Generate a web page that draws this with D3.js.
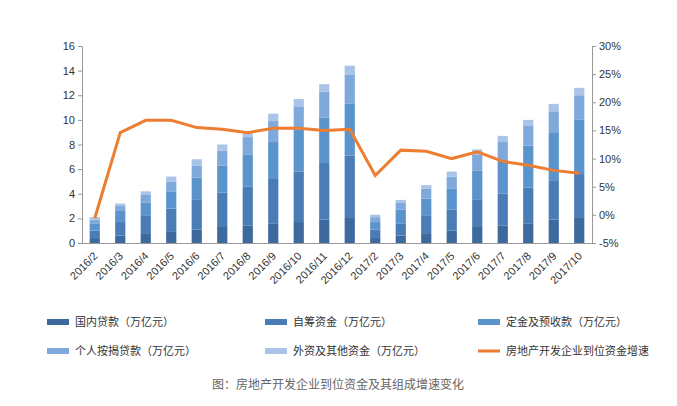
<!DOCTYPE html>
<html><head><meta charset="utf-8">
<script src="https://cdn.jsdelivr.net/npm/d3@7"></script>
<style>body{margin:0;background:#fff;font-family:"Noto Sans CJK SC",sans-serif}</style>
</head><body><svg id="c" width="677" height="406"></svg>
<script>
const months = ["2016/2","2016/3","2016/4","2016/5","2016/6","2016/7","2016/8","2016/9","2016/10","2016/11","2016/12","2017/2","2017/3","2017/4","2017/5","2017/6","2017/7","2017/8","2017/9","2017/10"];
const domestic = [0.4,0.6,0.8,0.9,1.1,1.3,1.4,1.6,1.7,1.9,2.1,0.4,0.6,0.8,1.0,1.3,1.4,1.6,1.9,2.1];
const selfFund = [0.6,1.1,1.4,1.9,2.4,2.8,3.2,3.6,4.1,4.6,5.0,0.7,1.0,1.4,1.7,2.2,2.6,2.9,3.2,3.5];
const deposits = [0.6,0.9,1.1,1.4,1.8,2.2,2.6,3.0,3.4,3.7,4.2,0.6,1.1,1.4,1.7,2.4,2.8,3.4,3.9,4.4];
const mortgage = [0.3,0.4,0.6,0.8,1.0,1.2,1.4,1.7,1.9,2.1,2.4,0.4,0.6,0.8,1.0,1.3,1.4,1.6,1.7,2.0];
const foreign  = [0.2,0.2,0.3,0.4,0.5,0.5,0.3,0.6,0.6,0.6,0.7,0.2,0.2,0.3,0.4,0.4,0.5,0.5,0.6,0.6];
const growth = [-0.6,14.6,16.8,16.8,15.5,15.2,14.6,15.4,15.4,15.0,15.2,7.0,11.5,11.3,10.0,11.2,9.5,8.8,7.9,7.4];
const seriesNames = ["国内贷款（万亿元）","自筹资金（万亿元）","定金及预收款（万亿元）","个人按揭贷款（万亿元）","外资及其他资金（万亿元）"];
const lineName = "房地产开发企业到位资金增速";
const colors = ["#3d6a9c","#4a7db5","#5b93cc","#7ea9da","#a9c4e6"];

const svg = d3.select("#c");
const mLeft = 82, mRight = 592, mTop = 46, mBottom = 243;
const x = d3.scaleBand().domain(months).range([mLeft, mRight]).paddingInner(0.6).paddingOuter(0.3);
const y = d3.scaleLinear().domain([0,16]).range([mBottom, mTop]);
const y2 = d3.scaleLinear().domain([-5,30]).range([mBottom, mTop]);

const rows = months.map((m,i)=>({m, v:[domestic[i],selfFund[i],deposits[i],mortgage[i],foreign[i]]}));
const stack = d3.stack().keys([0,1,2,3,4]).value((d,k)=>d.v[k])(rows);

svg.append("g").selectAll("g").data(stack).join("g").attr("fill",(d,i)=>colors[i])
  .selectAll("rect").data(d=>d).join("rect")
  .attr("x",d=>x(d.data.m)).attr("width",x.bandwidth())
  .attr("y",d=>y(d[1])).attr("height",d=>y(d[0])-y(d[1]));

const ax = svg.append("g").attr("transform",`translate(${mLeft},0)`)
  .call(d3.axisLeft(y).ticks(8).tickSize(4));
const ax2 = svg.append("g").attr("transform",`translate(${mRight},0)`)
  .call(d3.axisRight(y2).tickValues(d3.range(-5,31,5)).tickFormat(d=>d+"%").tickSize(4));
const xa = svg.append("g").attr("transform",`translate(0,${mBottom})`)
  .call(d3.axisBottom(x).tickSize(0));
xa.selectAll("text").attr("transform","translate(-4,6) rotate(-45)").style("text-anchor","end");
[ax,ax2,xa].forEach(g=>{
  g.selectAll("path,line").attr("stroke","#999");
  g.selectAll("text").attr("fill","#333").style("font-size","11px").style("font-family","Arial, Liberation Sans, sans-serif");
});

svg.append("path").datum(growth).attr("fill","none").attr("stroke","#ed7d31").attr("stroke-width",3)
  .attr("d",d3.line().x((d,i)=>x(months[i])+x.bandwidth()/2).y(d=>y2(d)));

const legend = seriesNames.map((n,i)=>({n,c:colors[i],line:false})).concat([{n:lineName,c:"#ed7d31",line:true}]);
const lx = [47,265,478];
const lg = svg.append("g").selectAll("g").data(legend).join("g")
  .attr("transform",(d,i)=>`translate(${lx[i%3]},${i<3?322:351})`);
lg.each(function(d){
  const g=d3.select(this);
  if(d.line) g.append("rect").attr("x",0).attr("y",-1.5).attr("width",22).attr("height",3).attr("fill",d.c);
  else g.append("rect").attr("x",0).attr("y",-3).attr("width",22).attr("height",6).attr("fill",d.c);
  g.append("text").attr("x",28).attr("y",4).text(d.n).style("font-size","11px").attr("fill","#333");
});
svg.append("text").attr("x",338).attr("y",389).attr("text-anchor","middle")
  .style("font-size","12px").attr("fill","#666").text("图：房地产开发企业到位资金及其组成增速变化");
</script></body></html>
